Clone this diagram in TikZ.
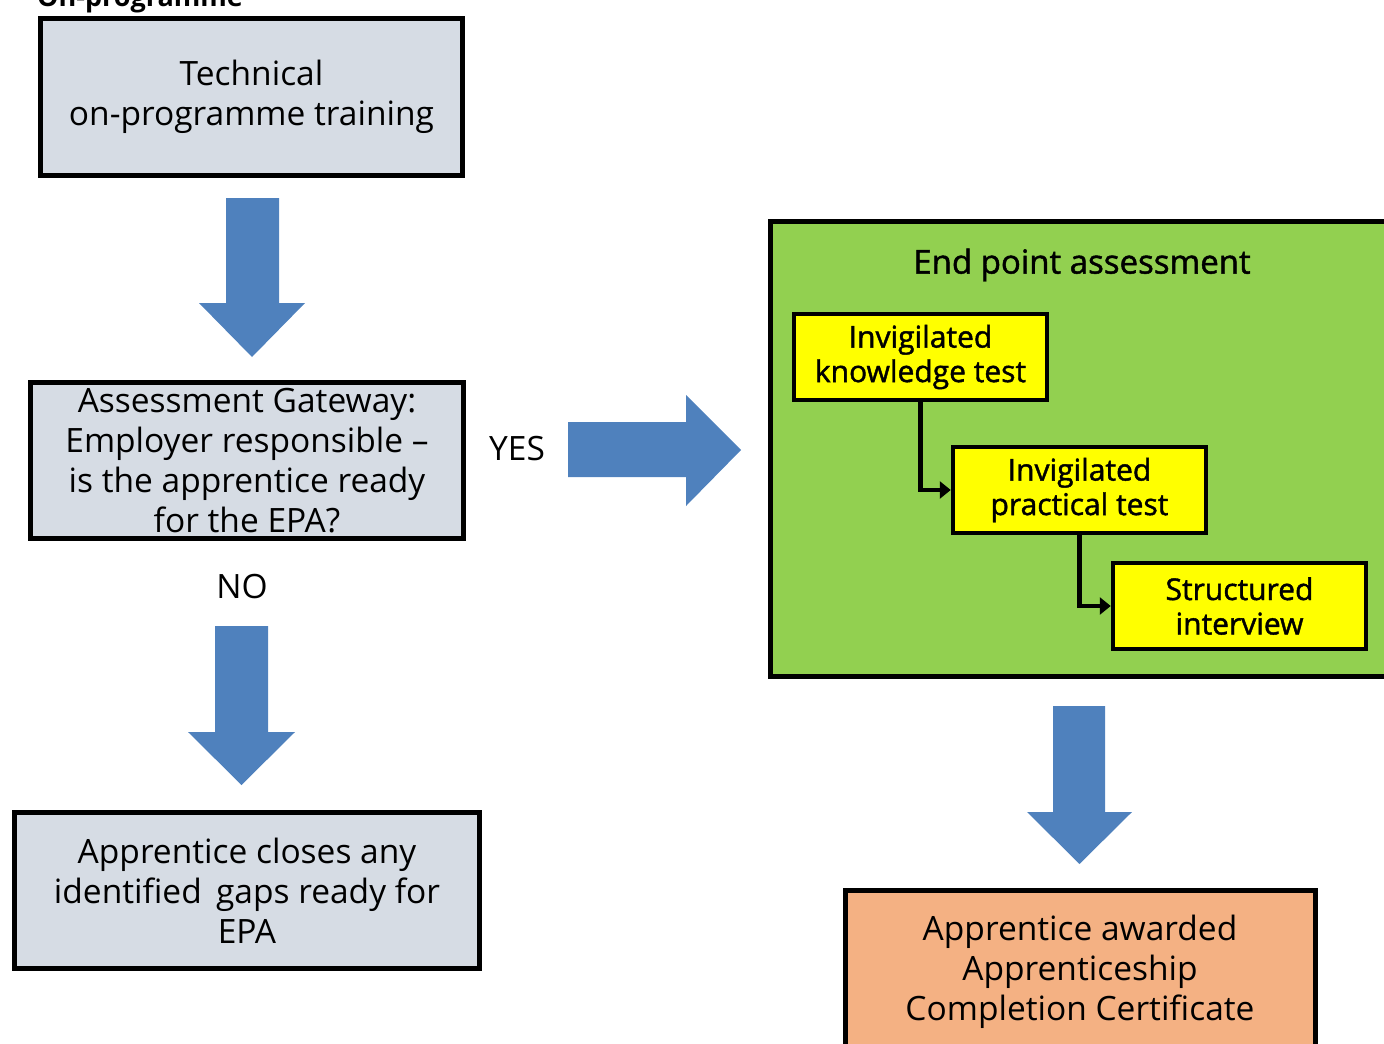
\documentclass[tikz,border=0pt]{standalone}
\usepackage{fontspec}
\setmainfont{Open Sans}
\newfontfamily\condfont[FakeBold=1.4]{Open Sans}
\usetikzlibrary{arrows.meta}
\definecolor{graybox}{HTML}{D6DCE4}
\definecolor{bluearrow}{HTML}{4F81BD}
\definecolor{greenbox}{HTML}{92D050}
\definecolor{orangebox}{HTML}{F4B183}
\definecolor{yellowbox}{HTML}{FFFF00}
\tikzset{
  box/.style={draw=black, line width=5pt, fill=graybox, align=center, inner sep=0pt,
    font=\fontsize{33.5}{40}\selectfont},
  ybox/.style={draw=black, line width=4.5pt, fill=yellowbox, align=center, inner sep=0pt,
    minimum width=253pt, minimum height=86pt, font=\condfont\fontsize{30}{34.5}\selectfont},
  lbl/.style={inner sep=0pt, font=\fontsize{33.5}{40}\selectfont},
  bigarrow/.style={fill=bluearrow, draw=none},
  link/.style={draw=black, line width=4.5pt, -{Triangle[length=11pt,width=17pt]}}
}
\begin{document}
\begin{tikzpicture}[x=1pt,y=-1pt]
\useasboundingbox (0,0) rectangle (1384,1044);
\clip (0,0) rectangle (1384,1044);
% cut-off heading
\node[anchor=base west, inner sep=0pt, font=\bfseries\fontsize{27}{32}\selectfont] (head) at (37,6) {On-programme};
% box 1
\node[box, minimum width=422pt, minimum height=157pt] (b1) at (251.5,97) {Technical\\on-programme training};
% arrow 1
\path[bigarrow] (226,198) -- (279,198) -- (279,303) -- (305,303) -- (252,357) -- (199,303) -- (226,303) -- cycle;
% box 2
\node[box, minimum width=433pt, minimum height=156pt] (b2) at (247,460.5) {Assessment Gateway:\\Employer responsible --\\is the apprentice ready\\for the EPA?};
% YES
\node[lbl] (yes) at (517,449) {YES};
% right arrow
\path[bigarrow] (568,422) -- (686,422) -- (686,395) -- (741,450) -- (686,506) -- (686,477) -- (568,477) -- cycle;
% NO
\node[lbl] (no) at (242,587) {NO};
% arrow 2
\path[bigarrow] (215,626) -- (268,626) -- (268,732) -- (295,732) -- (241.5,785) -- (188,732) -- (215,732) -- cycle;
% box 3
\node[box, minimum width=465pt, minimum height=156pt] (b3) at (247,890.5) {Apprentice closes any\\identified\, gaps ready for\\EPA};
% green box
\node[draw=black, line width=5pt, fill=greenbox, inner sep=0pt, minimum width=640pt, minimum height=455pt, anchor=north west] (epa) at (768,219) {};
\node[inner sep=0pt, font=\condfont\fontsize{33}{38}\selectfont] (epat) at (1082,265) {End point assessment};
% yellow boxes
\node[ybox] (y1) at (920.5,357) {Invigilated\\knowledge test};
\node[ybox] (y2) at (1079.5,490) {Invigilated\\practical test};
\node[ybox] (y3) at (1239.5,606) {Structured\\interview};
\draw[link] (y1.south) |- (y2.west);
\draw[link] (y2.south) |- (y3.west);
% arrow 3
\path[bigarrow] (1053,706) -- (1105,706) -- (1105,812) -- (1132,812) -- (1079.5,864) -- (1027,812) -- (1053,812) -- cycle;
% orange box
\node[draw=black, line width=5pt, fill=orangebox, inner sep=0pt, minimum width=470pt, minimum height=200pt, anchor=north] (cert) at (1080,888) {};
\node[inner sep=0pt, align=center, font=\fontsize{33.5}{40}\selectfont] (certt) at (1080,972) {Apprentice awarded\\Apprenticeship\\Completion Certificate};
\end{tikzpicture}
\end{document}
